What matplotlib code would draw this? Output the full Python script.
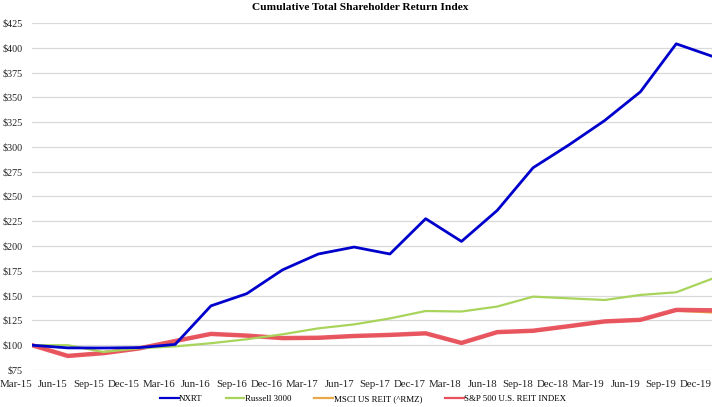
import numpy as np
import matplotlib
matplotlib.use('Agg')
import matplotlib.pyplot as plt
from matplotlib.ticker import FuncFormatter

# Datos (indice con base 100 en Mar-15)
quarters = ['Mar-15', 'Jun-15', 'Sep-15', 'Dec-15', 'Mar-16', 'Jun-16', 'Sep-16',
            'Dec-16', 'Mar-17', 'Jun-17', 'Sep-17', 'Dec-17', 'Mar-18', 'Jun-18',
            'Sep-18', 'Dec-18', 'Mar-19', 'Jun-19', 'Sep-19', 'Dec-19']

nxrt = [100, 97.3, 97.2, 97.6, 100.8, 139.7, 152, 176, 192, 199, 192, 227.6,
        204.7, 236, 279, 302, 326.6, 355.6, 404, 391.5]
russell = [100, 100, 93.2, 97, 98.8, 102, 106, 111, 117, 121, 127, 134.5,
           134, 139, 149, 147.3, 145.6, 150.7, 153.4, 167]
msci = [100, 89.5, 91.8, 96.5, 104, 111, 109.3, 106.8, 107, 109, 110, 111.5,
        102.2, 112.8, 114, 118.8, 123.6, 125.2, 134.8, 133]
sp_reit = [100, 89.2, 92, 96.8, 104.2, 111.4, 109.7, 107.2, 107.5, 109.3, 110.4, 112,
           102.3, 113.2, 114.6, 119.2, 124, 125.6, 135.6, 135.2]

yticks = np.arange(75, 426, 25)

plt.rcParams['font.family'] = ['Liberation Serif', 'DejaVu Serif']

fig = plt.figure(figsize=(7.2, 4.07), dpi=100)
ax = fig.add_axes([32/720., 1 - 370/407., 680/720., 347/407.])

x = np.arange(len(quarters))
ax.plot(x, nxrt, color='#0000CC', lw=2.0, label='NXRT', zorder=4)
ax.plot(x, russell, color='#A9D45C', lw=1.6, label='Russell 3000', zorder=3)
ax.plot(x, msci, color='#E9A84A', lw=1.6, label='MSCI US REIT (^RMZ)', zorder=2)
ax.plot(x, sp_reit, color='#E8505C', lw=3.2, alpha=0.95,
        label='S&P 500 U.S. REIT INDEX', zorder=2.5)

ax.set_xlim(0, len(quarters) - 1)
ax.set_ylim(75, 425)
ax.set_yticks(yticks)
ax.yaxis.set_major_formatter(FuncFormatter(lambda v, p: '$%d' % v))
ax.set_xticks(x)
ax.set_xticklabels(quarters, ha='right')
ax.tick_params(axis='x', length=0, labelsize=7.8, colors='#222222', pad=7)
ax.tick_params(axis='y', length=0, labelsize=7.3, colors='#222222', pad=6.5)
ax.grid(axis='y', color='#D9D9D9', lw=0.9)
ax.set_axisbelow(True)
for sp in ax.spines.values():
    sp.set_visible(False)

fig.text(0.5, 1 - 7/407., 'Cumulative Total Shareholder Return Index', ha='center',
         va='center', fontsize=8.2, fontweight='bold')

leg = fig.legend(loc='center', bbox_to_anchor=(363/720., 1 - 399/407.), ncol=4,
                 frameon=False, fontsize=6.4, handlelength=2.1, handletextpad=0.05,
                 columnspacing=2.6)
for h in leg.legend_handles:
    h.set_linewidth(1.6)
    h.set_alpha(1)

plt.savefig('out.png', dpi=100)
